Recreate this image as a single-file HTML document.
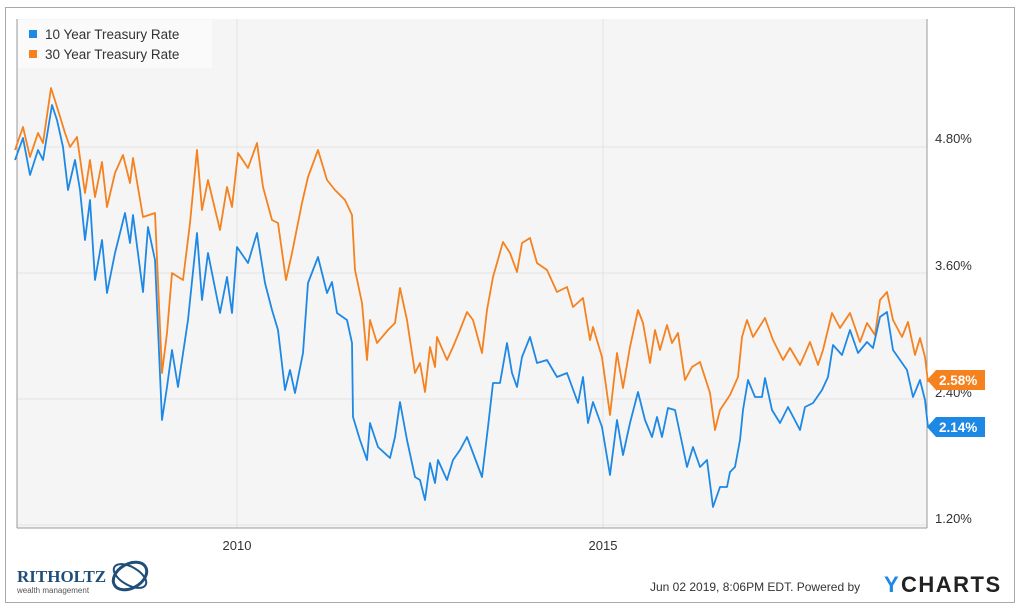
<!DOCTYPE html>
<html><head><meta charset="utf-8"><style>
body{margin:0;background:#fff;width:1024px;height:608px;overflow:hidden;font-family:"Liberation Sans",sans-serif}
</style></head><body>
<svg width="1024" height="608" xmlns="http://www.w3.org/2000/svg" font-family="Liberation Sans, sans-serif">
<rect x="5.5" y="7.5" width="1009" height="595" fill="#fff" stroke="#aaa"/>
<rect x="17" y="19" width="910" height="509" fill="#f5f5f5"/>
<g stroke="#e2e2e2" stroke-width="1">
<line x1="17" y1="147" x2="927" y2="147"/><line x1="17" y1="273" x2="927" y2="273"/>
<line x1="17" y1="399" x2="927" y2="399"/><line x1="17" y1="525" x2="927" y2="525"/>
<line x1="237" y1="19" x2="237" y2="528"/><line x1="603" y1="19" x2="603" y2="528"/>
</g>
<line x1="17" y1="19" x2="17" y2="528" stroke="#999"/>
<line x1="17" y1="528" x2="927" y2="528" stroke="#999"/>
<line x1="927" y1="19" x2="927" y2="528" stroke="#999"/>
<polyline fill="none" stroke="#f5821f" stroke-width="1.8" stroke-linejoin="round" points="15,150 23,127 30,157 38,133 43,143 51,88 58,110 65,133 70,147 77,137 85,193 90,160 95,197 102,162 107,207 115,173 123,155 130,183 133,158 143,217 155,213 162,373 167,333 172,273 183,280 190,223 197,150 202,210 208,180 220,230 227,187 232,207 238,153 248,168 257,143 263,187 272,220 278,223 286,280 292,253 302,203 308,177 318,150 327,180 335,190 345,200 352,215 355,270 362,303 367,360 370,320 377,343 388,330 395,323 400,288 407,320 415,373 420,363 425,392 430,347 435,367 437,337 447,360 453,347 460,330 467,312 473,320 482,353 487,310 493,277 503,242 510,253 517,272 522,243 530,238 537,263 547,270 557,292 567,287 573,307 583,298 590,340 593,327 602,357 610,415 617,353 623,388 630,347 638,310 643,323 650,363 655,330 660,350 667,325 672,343 678,333 685,380 692,367 700,362 710,393 715,430 720,410 730,395 738,377 742,337 747,320 753,337 765,318 773,340 783,360 790,348 800,365 810,342 818,365 823,350 832,313 840,328 850,313 860,342 867,323 875,335 880,300 887,292 893,320 902,337 908,322 915,355 920,338 925,357 928,382"/>
<polyline fill="none" stroke="#1e88e5" stroke-width="1.8" stroke-linejoin="round" points="15,160 23,138 30,175 38,150 43,160 52,105 57,120 63,147 68,190 75,160 80,190 85,240 90,200 95,280 102,240 107,293 115,253 125,213 130,243 133,215 143,292 148,227 155,260 162,420 167,387 172,350 178,387 188,320 197,233 202,300 208,253 220,313 227,277 232,313 237,247 248,263 257,233 265,283 272,310 278,330 285,390 290,370 295,393 303,353 308,283 318,257 327,293 332,282 337,313 347,320 352,343 353,417 360,440 367,460 370,423 378,447 390,458 395,437 400,402 407,440 415,477 420,480 425,500 430,463 435,483 438,460 447,480 453,460 460,450 467,437 473,453 482,477 488,427 493,383 500,383 507,343 512,373 517,387 522,357 530,337 537,363 547,360 557,377 567,373 578,403 583,377 588,423 593,402 602,427 610,475 617,420 623,455 630,423 638,392 645,420 652,437 657,417 662,437 668,408 675,410 682,443 687,467 693,447 700,467 707,460 713,507 720,487 727,487 730,472 735,467 740,440 743,410 748,380 755,397 762,397 765,378 772,410 780,423 788,407 800,430 805,407 813,403 822,390 828,377 833,345 842,355 850,330 858,353 867,342 873,348 880,317 887,312 893,350 900,360 907,370 913,397 920,380 925,400 928,427"/>
<rect x="18" y="20" width="194" height="48" fill="#fafafa"/>
<rect x="29" y="30" width="8" height="8" fill="#1e88e5"/>
<rect x="29" y="50" width="8" height="8" fill="#f5821f"/>
<g font-size="13.5" fill="#333"><text x="45" y="39">10 Year Treasury Rate</text><text x="45" y="59">30 Year Treasury Rate</text></g>
<g font-size="13" fill="#333"><text x="935" y="143">4.80%</text><text x="935" y="270">3.60%</text><text x="935" y="397">2.40%</text><text x="935" y="523">1.20%</text></g>
<path d="M927,380 L936,370 L985,370 L985,390 L936,390 Z" fill="#f5821f"/>
<text x="939" y="385" font-size="13.5" font-weight="bold" fill="#fff">2.58%</text>
<path d="M927,427 L936,417 L985,417 L985,437 L936,437 Z" fill="#1e88e5"/>
<text x="939" y="432" font-size="13.5" font-weight="bold" fill="#fff">2.14%</text>
<g font-size="13" fill="#333" text-anchor="middle"><text x="237" y="550">2010</text><text x="603" y="550">2015</text></g>
<text x="650" y="591" font-size="12" fill="#333">Jun 02 2019, 8:06PM EDT.  Powered by</text>
<text x="884" y="592" font-size="22" font-weight="bold" fill="#1e88e5">Y</text>
<text x="901" y="592" font-size="22" font-weight="bold" fill="#222" letter-spacing="1.5">CHARTS</text>
<text x="17" y="582" font-size="17" font-family="Liberation Serif, serif" fill="#1f4e79" font-weight="bold">RITHOLTZ</text>
<text x="17" y="593" font-size="8" fill="#555">wealth management</text>
<ellipse cx="130" cy="576" rx="18" ry="12" fill="none" stroke="#1f4e79" stroke-width="3" transform="rotate(-30 130 576)"/>
<ellipse cx="130" cy="576" rx="18" ry="9" fill="none" stroke="#1f4e79" stroke-width="2" transform="rotate(30 130 576)"/>
</svg>
</body></html>
